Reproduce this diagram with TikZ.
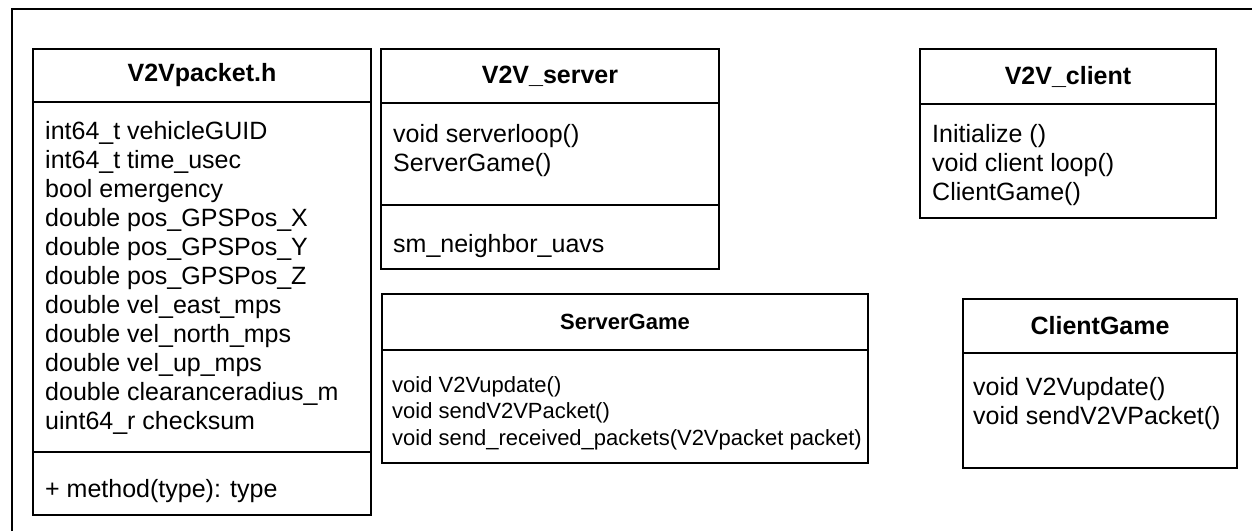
\documentclass[tikz,border=0pt]{standalone}
\usepackage{fontspec}
\setmainfont{Liberation Sans}
\usetikzlibrary{positioning}

\newcommand{\bigtext}{\fontsize{25}{29}\selectfont}
\newcommand{\smalltext}{\fontsize{22}{26.5}\selectfont}

\tikzset{
  umlbox/.style={draw, line width=1.6pt, inner sep=0pt, outer sep=0pt},
  classname/.style={umlbox, font=\bfseries\bigtext},
  members/.style={anchor=north west, align=left, inner sep=0pt, font=\bigtext},
}

\begin{document}
\begin{tikzpicture}[x=1pt, y=-1pt]
\useasboundingbox (0,0) rectangle (1252,531);

% outer frame (runs off the page)
\coordinate (framebl) at (12,531);
\coordinate (frametl) at (12,9);
\coordinate (frametr) at (1252,9);
\draw[line width=1.8pt] (framebl) -- (frametl) -- (frametr);

% V2Vpacket.h
\node[classname, anchor=north west, minimum width=338pt, minimum height=53pt] (pktname) at (33,49) {V2Vpacket.h};
\node[umlbox, minimum width=338pt, minimum height=350pt, below=0pt of pktname] (pktattr) {};
\node[umlbox, minimum width=338pt, minimum height=63pt, below=0pt of pktattr] (pktops) {};
\node[members, below right=19pt and 12pt of pktattr.north west] (pktattrtxt)
  {int64\_t vehicleGUID\\
   int64\_t time\_usec\\
   bool emergency\\
   double pos\_GPSPos\_X\\
   double pos\_GPSPos\_Y\\
   double pos\_GPSPos\_Z\\
   double vel\_east\_mps\\
   double vel\_north\_mps\\
   double vel\_up\_mps\\
   double clearanceradius\_m\\
   uint64\_r checksum};
\node[members, below right=27pt and 12pt of pktops.north west] (pktopstxt) {+ method(type): type};

% V2V_server
\node[classname, anchor=north west, minimum width=338pt, minimum height=54pt] (srvname) at (381,49) {V2V\_server};
\node[umlbox, minimum width=338pt, minimum height=102pt, below=0pt of srvname] (srvops) {};
\node[umlbox, minimum width=338pt, minimum height=64pt, below=0pt of srvops] (srvattr) {};
\node[members, below right=21pt and 12pt of srvops.north west] (srvopstxt)
  {void serverloop()\\
   ServerGame()};
\node[members, below right=29pt and 12pt of srvattr.north west] (srvattrtxt) {sm\_neighbor\_uavs};

% V2V_client
\node[classname, anchor=north west, minimum width=296pt, minimum height=55pt] (cliname) at (920,49) {V2V\_client};
\node[umlbox, minimum width=296pt, minimum height=114pt, below=0pt of cliname] (cliops) {};
\node[members, below right=20pt and 12pt of cliops.north west] (cliopstxt)
  {Initialize ()\\
   void client loop()\\
   ClientGame()};

% ServerGame
\node[classname, font=\bfseries\smalltext, anchor=north west, minimum width=486pt, minimum height=56pt] (sgname) at (382,294) {ServerGame};
\node[umlbox, minimum width=486pt, minimum height=113pt, below=0pt of sgname] (sgops) {};
\node[members, font=\smalltext, below right=26pt and 10pt of sgops.north west] (sgopstxt)
  {void V2Vupdate()\\
   void sendV2VPacket()\\
   void send\_received\_packets(V2Vpacket packet)};

% ClientGame
\node[classname, anchor=north west, minimum width=274pt, minimum height=54pt] (cgname) at (963,299) {ClientGame};
\node[umlbox, minimum width=274pt, minimum height=115pt, below=0pt of cgname] (cgops) {};
\node[members, below right=24pt and 10pt of cgops.north west] (cgopstxt)
  {void V2Vupdate()\\
   void sendV2VPacket()};
\end{tikzpicture}
\end{document}
